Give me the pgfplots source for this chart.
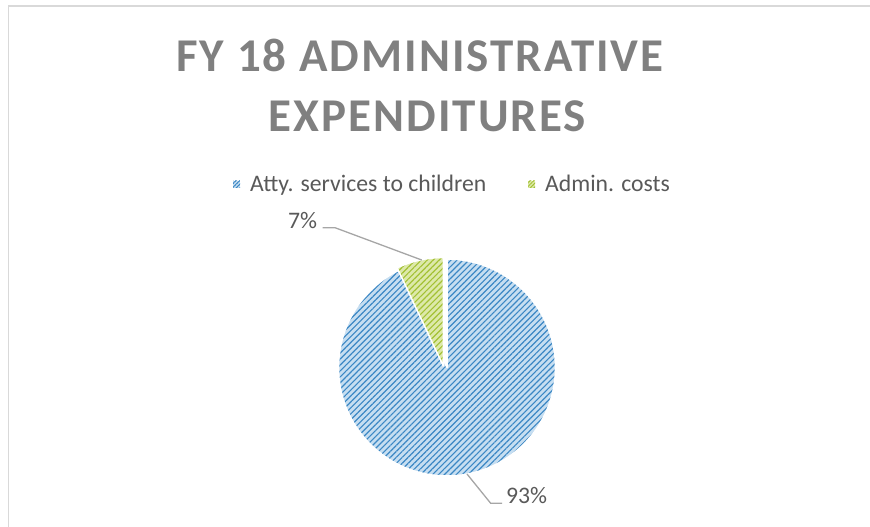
\documentclass[border=0pt]{standalone}
\usepackage{fontspec}
\setmainfont{Carlito}
\usepackage{pgfplots}
\pgfplotsset{compat=1.18}
\usepackage{pgfplotstable}
\usetikzlibrary{patterns.meta}

\pgfplotstableread{
label value
Atty 93
Admin 7
}\piedata

\definecolor{bluebg}{HTML}{C6DEF1}
\definecolor{blueln}{HTML}{3B87C4}
\definecolor{greenbg}{HTML}{DDE9AA}
\definecolor{greenln}{HTML}{A3C133}
\definecolor{titlegray}{HTML}{808080}
\definecolor{txtgray}{HTML}{595959}
\definecolor{leader}{HTML}{A6A6A6}
\definecolor{framegray}{HTML}{D9D9D9}

\begin{document}
\begin{tikzpicture}
\pgfplotstablegetelem{0}{value}\of\piedata \let\va\pgfplotsretval
\pgfplotstablegetelem{1}{value}\of\piedata \let\vb\pgfplotsretval
\pgfmathsetmacro{\total}{\va+\vb}
\pgfmathsetmacro{\angA}{\va/\total*360}
\pgfmathsetmacro{\angB}{\vb/\total*360}
\pgfmathsetmacro{\endA}{90-\angA}
\pgfmathsetmacro{\endB}{90+\angB}
\useasboundingbox (0,0) rectangle (870bp,527bp);
\begin{axis}[at={(0,0)}, anchor=south west, x=1bp, y=1bp,
  xmin=0, xmax=870, ymin=0, ymax=527, hide axis, clip=false]
% frame (top and left only)
\addplot[framegray, line width=1.6bp, mark=none] coordinates {(8.5,0) (8.5,521.2) (872,521.2)};
% blue slice
\path[fill=bluebg, postaction={pattern={Lines[angle=45,distance=4.2bp,line width=1.15bp]}, pattern color=blueln}]
  (axis cs:447,159.5) -- ++(90:108.5bp) arc[start angle=90, end angle=\endA, radius=108.5bp] -- cycle;
\draw[white, line width=1.5bp, line join=round]
  (axis cs:447,159.5) -- ++(90:108.5bp) arc[start angle=90, end angle=\endA, radius=108.5bp] -- cycle;
% green slice (exploded)
\path[fill=greenbg, postaction={pattern={Lines[angle=45,distance=4.2bp,line width=1.15bp]}, pattern color=greenln}]
  (axis cs:443.3,161) -- ++(90:108.5bp) arc[start angle=90, end angle=\endB, radius=108.5bp] -- cycle;
\draw[white, line width=1.5bp, line join=round]
  (axis cs:443.3,161) -- ++(90:108.5bp) arc[start angle=90, end angle=\endB, radius=108.5bp] -- cycle;
% leader lines
\addplot[leader, line width=1.3bp, mark=none] coordinates {(322.7,299.3) (335,299.3) (421.7,267)};
\addplot[leader, line width=1.3bp, mark=none] coordinates {(467,53) (490.7,23.7) (502,23.7)};
% data labels
\node[anchor=base west, inner sep=0, text=txtgray, font=\fontsize{23.7bp}{26bp}\selectfont] at (axis cs:288,299) {7\%};
\node[anchor=base west, inner sep=0, text=txtgray, font=\fontsize{23.7bp}{26bp}\selectfont] at (axis cs:506,23.7) {93\%};
% title
\node[anchor=base, inner sep=0, text=titlegray, font=\fontsize{47bp}{50bp}\selectfont\bfseries\addfontfeatures{LetterSpace=4.3}] at (axis cs:420,455.3) {FY 18 ADMINISTRATIVE};
\node[anchor=base, inner sep=0, text=titlegray, font=\fontsize{47bp}{50bp}\selectfont\bfseries\addfontfeatures{LetterSpace=4.3}] at (axis cs:427.5,395.3) {EXPENDITURES};
% legend
\path[fill=bluebg, postaction={pattern={Lines[angle=45,distance=2.6bp,line width=1bp]}, pattern color=blueln}] (axis cs:233,339) rectangle (axis cs:240,346);
\path[fill=greenbg, postaction={pattern={Lines[angle=45,distance=2.6bp,line width=1bp]}, pattern color=greenln}] (axis cs:528,339) rectangle (axis cs:535,346);
\node[anchor=base west, inner sep=0, text=txtgray, font=\fontsize{23.7bp}{26bp}\selectfont] at (axis cs:250,335.3) {Atty. services to children};
\node[anchor=base west, inner sep=0, text=txtgray, font=\fontsize{23.7bp}{26bp}\selectfont] at (axis cs:545,335.3) {Admin. costs};
\end{axis}
\end{tikzpicture}
\end{document}
